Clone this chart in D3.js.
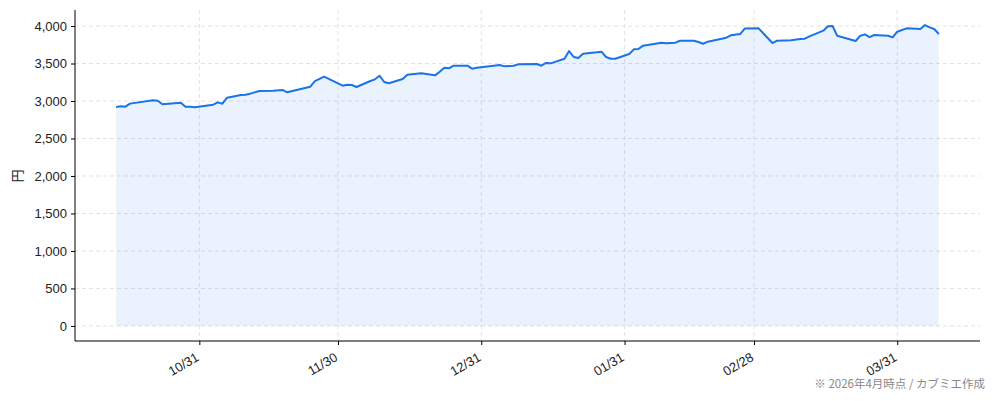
<!DOCTYPE html>
<html>
<head>
<meta charset="utf-8">
<script src="https://cdn.jsdelivr.net/npm/d3@7"></script>
<style>
  body { margin: 0; background: #fff; }
  svg { display: block; font-family: "Noto Sans CJK JP", "Noto Sans", sans-serif; }
</style>
</head>
<body>
<div id="chart"></div>
<script>
// price series
const dates = [
  "2025-10-13","2025-10-14","2025-10-15","2025-10-16","2025-10-21","2025-10-22","2025-10-23",
  "2025-10-27","2025-10-28","2025-10-29","2025-10-30","2025-11-03","2025-11-04","2025-11-05",
  "2025-11-06","2025-11-09","2025-11-10","2025-11-11","2025-11-13","2025-11-16","2025-11-18",
  "2025-11-19","2025-11-24","2025-11-25","2025-11-27","2025-12-01","2025-12-02","2025-12-03",
  "2025-12-04","2025-12-07","2025-12-08","2025-12-09","2025-12-10","2025-12-11","2025-12-14",
  "2025-12-15","2025-12-18","2025-12-21","2025-12-22","2025-12-23","2025-12-24","2025-12-25",
  "2025-12-28","2025-12-29","2025-12-30","2026-01-04","2026-01-05","2026-01-07","2026-01-08",
  "2026-01-12","2026-01-13","2026-01-14","2026-01-15","2026-01-18","2026-01-19","2026-01-20",
  "2026-01-21","2026-01-22","2026-01-25","2026-01-26","2026-01-27","2026-01-28","2026-01-29",
  "2026-02-01","2026-02-02","2026-02-03","2026-02-04","2026-02-08","2026-02-09","2026-02-11",
  "2026-02-12","2026-02-15","2026-02-16","2026-02-17","2026-02-18","2026-02-22","2026-02-23",
  "2026-02-25","2026-02-26","2026-03-01","2026-03-04","2026-03-05","2026-03-08","2026-03-10",
  "2026-03-11","2026-03-12","2026-03-15","2026-03-16","2026-03-17","2026-03-18","2026-03-22",
  "2026-03-23","2026-03-24","2026-03-25","2026-03-26","2026-03-29","2026-03-30","2026-03-31",
  "2026-04-02","2026-04-05","2026-04-06","2026-04-07","2026-04-08","2026-04-09"
];
const prices = [
  2920, 2929, 2924, 2965, 3009, 3004, 2956,
  2978, 2924, 2924, 2916, 2951, 2982, 2964,
  3044, 3080, 3084, 3098, 3133, 3138, 3147,
  3116, 3191, 3265, 3324, 3204, 3218, 3213,
  3187, 3267, 3289, 3337, 3253, 3236, 3293,
  3351, 3369, 3342, 3391, 3444, 3436, 3471,
  3471, 3431, 3444, 3480, 3462, 3471, 3489,
  3493, 3471, 3507, 3502, 3564, 3667, 3587,
  3573, 3631, 3649, 3658, 3587, 3564, 3564,
  3627, 3689, 3693, 3738, 3778, 3769, 3778,
  3804, 3804, 3787, 3764, 3791, 3844, 3876,
  3893, 3966, 3969, 3773, 3804, 3809, 3827,
  3831, 3862, 3938, 3996, 4000, 3871, 3800,
  3871, 3889, 3853, 3880, 3871, 3849, 3924,
  3969, 3960, 4013, 3982, 3960, 3893
];
const xTickDates = ["2025-10-31","2025-11-30","2025-12-31","2026-01-31","2026-02-28","2026-03-31"];
const yTicks = [0, 500, 1000, 1500, 2000, 2500, 3000, 3500, 4000];
const yLabel = "円";
const footNote = "※ 2026年4月時点 / カブミエ作成";

const W = 994, H = 401;
const margin = { top: 10, right: 14, bottom: 60, left: 75 };
const width = W - margin.left - margin.right;
const height = H - margin.top - margin.bottom;

const parse = d3.timeParse("%Y-%m-%d");
const data = dates.map((d, i) => ({ date: parse(d), value: prices[i] }));

const svg = d3.select("#chart")
  .append("svg")
    .attr("width", W)
    .attr("height", H);

const g = svg.append("g")
  .attr("transform", `translate(${margin.left}, ${margin.top})`);

// 5% padding on both axes, like matplotlib
const [t0, t1] = d3.extent(data, d => d.date);
const pad = (t1 - t0) * 0.05;
const x = d3.scaleTime()
  .domain([new Date(+t0 - pad), new Date(+t1 + pad)])
  .range([0, width]);

const vMax = d3.max(prices);
const y = d3.scaleLinear()
  .domain([-vMax * 0.05, vMax * 1.05])
  .range([height, 0]);

const xTicks = xTickDates.map(parse);

// grid
g.append("g")
  .selectAll("line")
  .data(yTicks)
  .join("line")
    .attr("x1", 0).attr("x2", width)
    .attr("y1", d => y(d)).attr("y2", d => y(d))
    .attr("stroke", "#e2e2e2")
    .attr("stroke-dasharray", "4,3");
g.append("g")
  .selectAll("line")
  .data(xTicks)
  .join("line")
    .attr("x1", d => x(d)).attr("x2", d => x(d))
    .attr("y1", 0).attr("y2", height)
    .attr("stroke", "#e2e2e2")
    .attr("stroke-dasharray", "4,3");

// area + line
const area = d3.area()
  .x(d => x(d.date))
  .y0(y(0))
  .y1(d => y(d.value));
g.append("path")
  .datum(data)
  .attr("fill", "#1a73e8")
  .attr("fill-opacity", 0.09)
  .attr("d", area);

const line = d3.line()
  .x(d => x(d.date))
  .y(d => y(d.value));
g.append("path")
  .datum(data)
  .attr("fill", "none")
  .attr("stroke", "#1a73e8")
  .attr("stroke-width", 2)
  .attr("stroke-linejoin", "round")
  .attr("d", line);

// y axis
const yAxis = g.append("g")
  .call(d3.axisLeft(y).tickValues(yTicks).tickSize(4).tickPadding(4).tickFormat(d3.format(",")));
yAxis.select(".domain").attr("stroke", "#000").attr("d", `M0,0V${height}`);
yAxis.selectAll(".tick line").attr("stroke", "#000");
yAxis.selectAll("text").style("font-size", "13px").attr("fill", "#222");

// x axis
const xAxis = g.append("g")
  .attr("transform", `translate(0, ${height})`)
  .call(d3.axisBottom(x).tickValues(xTicks).tickSize(4).tickFormat(d3.timeFormat("%m/%d")));
xAxis.select(".domain").attr("stroke", "#000").attr("d", `M0,0H${width}`);
xAxis.selectAll(".tick line").attr("stroke", "#000");
xAxis.selectAll("text")
  .style("font-size", "13px")
  .attr("fill", "#222")
  .attr("text-anchor", "end")
  .attr("dy", null)
  .attr("y", 0)
  .attr("transform", "translate(0, 19) rotate(-30)");

// y label
svg.append("text")
  .attr("transform", `translate(22, ${margin.top + y(2000)}) rotate(-90)`)
  .attr("text-anchor", "middle")
  .style("font-size", "13px")
  .attr("fill", "#222")
  .text(yLabel);

// footnote
svg.append("text")
  .attr("x", W - 9)
  .attr("y", 388)
  .attr("text-anchor", "end")
  .style("font-size", "11.5px")
  .attr("fill", "#888")
  .text(footNote);
</script>
</body>
</html>
